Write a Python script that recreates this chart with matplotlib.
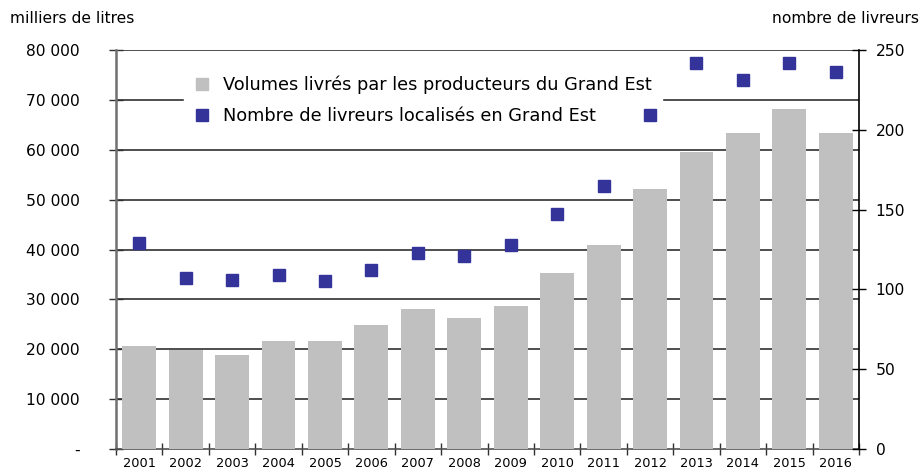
import numpy as np
import matplotlib.pyplot as plt
from matplotlib.lines import Line2D
from matplotlib.ticker import FuncFormatter

plt.rcParams['font.family'] = ['DejaVu Sans']

years = ['2001', '2002', '2003', '2004', '2005', '2006', '2007', '2008',
         '2009', '2010', '2011', '2012', '2013', '2014', '2015', '2016']
volumes = [20700, 19800, 18900, 21600, 21600, 24800, 28000, 26300,
           28700, 35300, 40900, 52100, 59500, 63300, 68100, 63300]
livreurs = [129, 107, 106, 109, 105, 112, 123, 121,
            128, 147, 165, 209, 242, 231, 242, 236]

lab_bars = 'Volumes livrés par les producteurs du Grand Est'
lab_pts = 'Nombre de livreurs localisés en Grand Est'

fig = plt.figure(figsize=(9.22, 4.74), dpi=100)
ax = fig.add_axes([0.1258, 0.0527, 0.8059, 0.8418])
ax2 = ax.twinx()

x = np.arange(len(years))
ax.bar(x, volumes, width=0.73, color='#c0c0c0', zorder=3)
ax2.plot(x, livreurs, 's', color='#333399', markersize=8.5, linestyle='none')

ax.set_xlim(-0.5, len(years) - 0.5)
ax.set_ylim(0, 80000)
ax2.set_ylim(0, 250)
yt = np.arange(0, 80001, 10000)
ax.set_yticks(yt)
ax2.set_yticks(np.arange(0, 251, 50))

def fmt(v, pos):
    if v == 0:
        return '-'
    return f'{int(v):,}'.replace(',', ' ')

ax.yaxis.set_major_formatter(FuncFormatter(fmt))
# gridlines behind the bars
ax.hlines(yt[1:], -0.5, len(years) - 0.5, color='#303030', linewidth=1.2, zorder=1)

ax.set_xticks(x)
ax.set_xticklabels(years, fontsize=9.3)
ax.set_xticks(np.arange(-0.5, len(years)), minor=True)
ax.tick_params(axis='x', which='major', length=0, pad=6)
ax.tick_params(axis='x', which='minor', direction='inout', length=8, width=1, color='#303030')
ax.tick_params(axis='y', direction='inout', length=10, width=1, labelsize=11.2, pad=21, color='#303030')
ax2.tick_params(axis='y', direction='inout', length=10, width=1, labelsize=11.2, pad=7)

ax.spines['top'].set_visible(False)
ax2.spines['top'].set_visible(False)
ax2.spines['left'].set_visible(False)
ax2.spines['bottom'].set_visible(False)
ax.spines['left'].set_color('#707070')
ax.spines['left'].set_linewidth(1.8)
ax.spines['bottom'].set_color('#505050')
ax.spines['bottom'].set_linewidth(1.2)
ax.spines['right'].set_visible(False)
ax2.spines['right'].set_color('black')
ax2.spines['right'].set_linewidth(1.2)

handles = [Line2D([], [], marker='s', color='#c0c0c0', linestyle='none', markersize=9),
           Line2D([], [], marker='s', color='#333399', linestyle='none', markersize=9)]
leg = ax.legend(handles, [lab_bars, lab_pts], loc='upper left',
                bbox_to_anchor=(0.08, 0.985), fontsize=12.8, frameon=True,
                fancybox=False, edgecolor='white', facecolor='white', framealpha=1,
                handlelength=0.8, handletextpad=0.75, borderpad=0.6, labelspacing=0.72)
leg.set_zorder(5)

fig.text(0.011, 0.962, 'milliers de litres', fontsize=11.2, ha='left', va='center')
fig.text(0.997, 0.962, 'nombre de livreurs', fontsize=11.2, ha='right', va='center')

fig.savefig('out.png', dpi=100)
